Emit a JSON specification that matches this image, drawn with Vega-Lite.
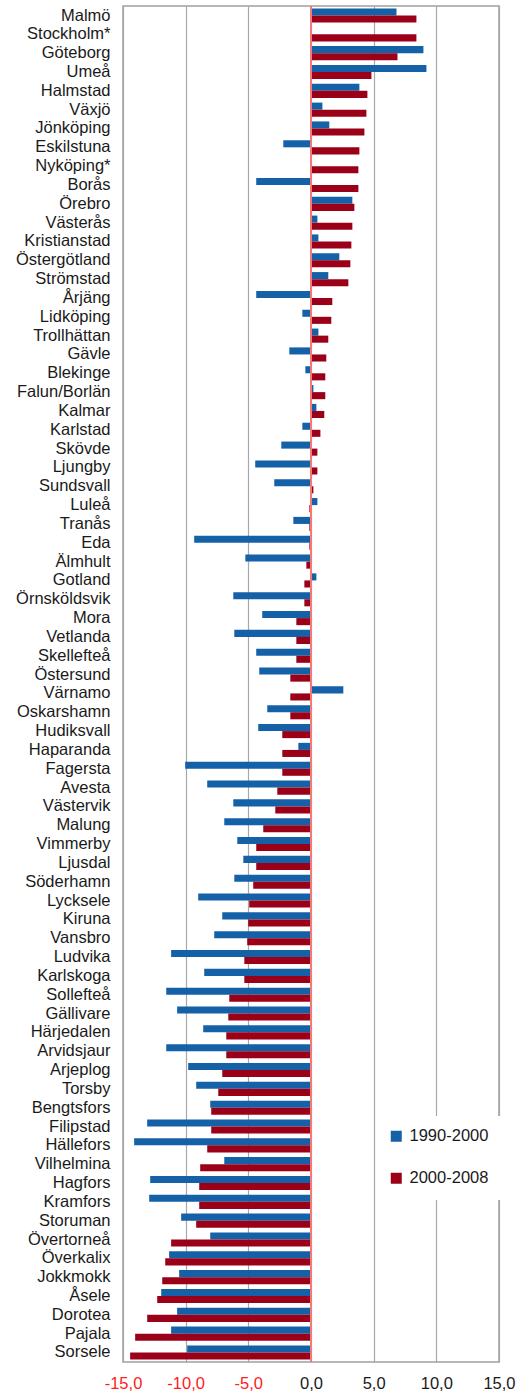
{
  "$schema": "https://vega.github.io/schema/vega-lite/v6.json",
  "width": 376,
  "height": 1356,
  "autosize": {"type": "none"},
  "padding": {"left": 123, "top": 6, "right": 18, "bottom": 33},
  "background": "white",
  "config": {
    "font": "Liberation Sans",
    "view": {"stroke": "#a0a0a0", "strokeWidth": 1.5}
  },
  "data": {
    "values": [
      {"kommun": "Malmö", "period": "1990-2000", "v": 6.82}, {"kommun": "Malmö", "period": "2000-2008", "v": 8.41},
      {"kommun": "Stockholm*", "period": "2000-2008", "v": 8.41},
      {"kommun": "Göteborg", "period": "1990-2000", "v": 8.97}, {"kommun": "Göteborg", "period": "2000-2008", "v": 6.9},
      {"kommun": "Umeå", "period": "1990-2000", "v": 9.21}, {"kommun": "Umeå", "period": "2000-2008", "v": 4.82},
      {"kommun": "Halmstad", "period": "1990-2000", "v": 3.86}, {"kommun": "Halmstad", "period": "2000-2008", "v": 4.5},
      {"kommun": "Växjö", "period": "1990-2000", "v": 0.91}, {"kommun": "Växjö", "period": "2000-2008", "v": 4.42},
      {"kommun": "Jönköping", "period": "1990-2000", "v": 1.46}, {"kommun": "Jönköping", "period": "2000-2008", "v": 4.26},
      {"kommun": "Eskilstuna", "period": "1990-2000", "v": -2.21}, {"kommun": "Eskilstuna", "period": "2000-2008", "v": 3.86},
      {"kommun": "Nyköping*", "period": "2000-2008", "v": 3.78},
      {"kommun": "Borås", "period": "1990-2000", "v": -4.37}, {"kommun": "Borås", "period": "2000-2008", "v": 3.78},
      {"kommun": "Örebro", "period": "1990-2000", "v": 3.3}, {"kommun": "Örebro", "period": "2000-2008", "v": 3.46},
      {"kommun": "Västerås", "period": "1990-2000", "v": 0.51}, {"kommun": "Västerås", "period": "2000-2008", "v": 3.3},
      {"kommun": "Kristianstad", "period": "1990-2000", "v": 0.59}, {"kommun": "Kristianstad", "period": "2000-2008", "v": 3.22},
      {"kommun": "Östergötland", "period": "1990-2000", "v": 2.26}, {"kommun": "Östergötland", "period": "2000-2008", "v": 3.14},
      {"kommun": "Strömstad", "period": "1990-2000", "v": 1.38}, {"kommun": "Strömstad", "period": "2000-2008", "v": 2.98},
      {"kommun": "Årjäng", "period": "1990-2000", "v": -4.37}, {"kommun": "Årjäng", "period": "2000-2008", "v": 1.7},
      {"kommun": "Lidköping", "period": "1990-2000", "v": -0.69}, {"kommun": "Lidköping", "period": "2000-2008", "v": 1.62},
      {"kommun": "Trollhättan", "period": "1990-2000", "v": 0.59}, {"kommun": "Trollhättan", "period": "2000-2008", "v": 1.38},
      {"kommun": "Gävle", "period": "1990-2000", "v": -1.73}, {"kommun": "Gävle", "period": "2000-2008", "v": 1.22},
      {"kommun": "Blekinge", "period": "1990-2000", "v": -0.45}, {"kommun": "Blekinge", "period": "2000-2008", "v": 1.14},
      {"kommun": "Falun/Borlän", "period": "1990-2000", "v": 0.19}, {"kommun": "Falun/Borlän", "period": "2000-2008", "v": 1.14},
      {"kommun": "Kalmar", "period": "1990-2000", "v": 0.43}, {"kommun": "Kalmar", "period": "2000-2008", "v": 1.06},
      {"kommun": "Karlstad", "period": "1990-2000", "v": -0.69}, {"kommun": "Karlstad", "period": "2000-2008", "v": 0.75},
      {"kommun": "Skövde", "period": "1990-2000", "v": -2.37}, {"kommun": "Skövde", "period": "2000-2008", "v": 0.51},
      {"kommun": "Ljungby", "period": "1990-2000", "v": -4.45}, {"kommun": "Ljungby", "period": "2000-2008", "v": 0.51},
      {"kommun": "Sundsvall", "period": "1990-2000", "v": -2.93}, {"kommun": "Sundsvall", "period": "2000-2008", "v": 0.19},
      {"kommun": "Luleå", "period": "1990-2000", "v": 0.51}, {"kommun": "Luleå", "period": "2000-2008", "v": -0.13},
      {"kommun": "Tranås", "period": "1990-2000", "v": -1.41}, {"kommun": "Tranås", "period": "2000-2008", "v": -0.13},
      {"kommun": "Eda", "period": "1990-2000", "v": -9.32}, {"kommun": "Eda", "period": "2000-2008", "v": -0.13},
      {"kommun": "Älmhult", "period": "1990-2000", "v": -5.24}, {"kommun": "Älmhult", "period": "2000-2008", "v": -0.37},
      {"kommun": "Gotland", "period": "1990-2000", "v": 0.43}, {"kommun": "Gotland", "period": "2000-2008", "v": -0.53},
      {"kommun": "Örnsköldsvik", "period": "1990-2000", "v": -6.2}, {"kommun": "Örnsköldsvik", "period": "2000-2008", "v": -0.53},
      {"kommun": "Mora", "period": "1990-2000", "v": -3.89}, {"kommun": "Mora", "period": "2000-2008", "v": -1.17},
      {"kommun": "Vetlanda", "period": "1990-2000", "v": -6.12}, {"kommun": "Vetlanda", "period": "2000-2008", "v": -1.17},
      {"kommun": "Skellefteå", "period": "1990-2000", "v": -4.37}, {"kommun": "Skellefteå", "period": "2000-2008", "v": -1.17},
      {"kommun": "Östersund", "period": "1990-2000", "v": -4.13}, {"kommun": "Östersund", "period": "2000-2008", "v": -1.65},
      {"kommun": "Värnamo", "period": "1990-2000", "v": 2.58}, {"kommun": "Värnamo", "period": "2000-2008", "v": -1.65},
      {"kommun": "Oskarshamn", "period": "1990-2000", "v": -3.49}, {"kommun": "Oskarshamn", "period": "2000-2008", "v": -1.65},
      {"kommun": "Hudiksvall", "period": "1990-2000", "v": -4.21}, {"kommun": "Hudiksvall", "period": "2000-2008", "v": -2.29},
      {"kommun": "Haparanda", "period": "1990-2000", "v": -1.01}, {"kommun": "Haparanda", "period": "2000-2008", "v": -2.29},
      {"kommun": "Fagersta", "period": "1990-2000", "v": -10.04}, {"kommun": "Fagersta", "period": "2000-2008", "v": -2.29},
      {"kommun": "Avesta", "period": "1990-2000", "v": -8.28}, {"kommun": "Avesta", "period": "2000-2008", "v": -2.69},
      {"kommun": "Västervik", "period": "1990-2000", "v": -6.2}, {"kommun": "Västervik", "period": "2000-2008", "v": -2.85},
      {"kommun": "Malung", "period": "1990-2000", "v": -6.92}, {"kommun": "Malung", "period": "2000-2008", "v": -3.81},
      {"kommun": "Vimmerby", "period": "1990-2000", "v": -5.88}, {"kommun": "Vimmerby", "period": "2000-2008", "v": -4.37},
      {"kommun": "Ljusdal", "period": "1990-2000", "v": -5.4}, {"kommun": "Ljusdal", "period": "2000-2008", "v": -4.37},
      {"kommun": "Söderhamn", "period": "1990-2000", "v": -6.12}, {"kommun": "Söderhamn", "period": "2000-2008", "v": -4.61},
      {"kommun": "Lycksele", "period": "1990-2000", "v": -9.0}, {"kommun": "Lycksele", "period": "2000-2008", "v": -4.93},
      {"kommun": "Kiruna", "period": "1990-2000", "v": -7.08}, {"kommun": "Kiruna", "period": "2000-2008", "v": -5.01},
      {"kommun": "Vansbro", "period": "1990-2000", "v": -7.72}, {"kommun": "Vansbro", "period": "2000-2008", "v": -5.09},
      {"kommun": "Ludvika", "period": "1990-2000", "v": -11.16}, {"kommun": "Ludvika", "period": "2000-2008", "v": -5.32},
      {"kommun": "Karlskoga", "period": "1990-2000", "v": -8.52}, {"kommun": "Karlskoga", "period": "2000-2008", "v": -5.32},
      {"kommun": "Sollefteå", "period": "1990-2000", "v": -11.55}, {"kommun": "Sollefteå", "period": "2000-2008", "v": -6.52},
      {"kommun": "Gällivare", "period": "1990-2000", "v": -10.68}, {"kommun": "Gällivare", "period": "2000-2008", "v": -6.6},
      {"kommun": "Härjedalen", "period": "1990-2000", "v": -8.6}, {"kommun": "Härjedalen", "period": "2000-2008", "v": -6.76},
      {"kommun": "Arvidsjaur", "period": "1990-2000", "v": -11.55}, {"kommun": "Arvidsjaur", "period": "2000-2008", "v": -6.76},
      {"kommun": "Arjeplog", "period": "1990-2000", "v": -9.8}, {"kommun": "Arjeplog", "period": "2000-2008", "v": -7.08},
      {"kommun": "Torsby", "period": "1990-2000", "v": -9.16}, {"kommun": "Torsby", "period": "2000-2008", "v": -7.4},
      {"kommun": "Bengtsfors", "period": "1990-2000", "v": -8.04}, {"kommun": "Bengtsfors", "period": "2000-2008", "v": -7.96},
      {"kommun": "Filipstad", "period": "1990-2000", "v": -13.07}, {"kommun": "Filipstad", "period": "2000-2008", "v": -7.96},
      {"kommun": "Hällefors", "period": "1990-2000", "v": -14.11}, {"kommun": "Hällefors", "period": "2000-2008", "v": -8.28},
      {"kommun": "Vilhelmina", "period": "1990-2000", "v": -6.92}, {"kommun": "Vilhelmina", "period": "2000-2008", "v": -8.84},
      {"kommun": "Hagfors", "period": "1990-2000", "v": -12.83}, {"kommun": "Hagfors", "period": "2000-2008", "v": -8.92},
      {"kommun": "Kramfors", "period": "1990-2000", "v": -12.91}, {"kommun": "Kramfors", "period": "2000-2008", "v": -8.92},
      {"kommun": "Storuman", "period": "1990-2000", "v": -10.36}, {"kommun": "Storuman", "period": "2000-2008", "v": -9.16},
      {"kommun": "Övertorneå", "period": "1990-2000", "v": -8.04}, {"kommun": "Övertorneå", "period": "2000-2008", "v": -11.16},
      {"kommun": "Överkalix", "period": "1990-2000", "v": -11.32}, {"kommun": "Överkalix", "period": "2000-2008", "v": -11.63},
      {"kommun": "Jokkmokk", "period": "1990-2000", "v": -10.52}, {"kommun": "Jokkmokk", "period": "2000-2008", "v": -11.87},
      {"kommun": "Åsele", "period": "1990-2000", "v": -11.95}, {"kommun": "Åsele", "period": "2000-2008", "v": -12.27},
      {"kommun": "Dorotea", "period": "1990-2000", "v": -10.68}, {"kommun": "Dorotea", "period": "2000-2008", "v": -13.07},
      {"kommun": "Pajala", "period": "1990-2000", "v": -11.16}, {"kommun": "Pajala", "period": "2000-2008", "v": -14.03},
      {"kommun": "Sorsele", "period": "1990-2000", "v": -9.88}, {"kommun": "Sorsele", "period": "2000-2008", "v": -14.43}
    ]
  },
  "layer": [
    {
      "mark": {"type": "bar", "cornerRadius": 0},
      "encoding": {
        "y": {
          "field": "kommun", "type": "nominal", "sort": null,
          "scale": {"paddingInner": 0.25, "paddingOuter": 0.13},
          "axis": {"title": null, "ticks": false, "domain": false, "labelFontSize": 16.5, "labelColor": "#1a1a1a", "labelPadding": 13, "labelLimit": 200}
        },
        "yOffset": {"field": "period", "type": "nominal", "sort": ["1990-2000", "2000-2008"], "scale": {"paddingInner": 0, "paddingOuter": 0}},
        "x": {
          "field": "v", "type": "quantitative",
          "scale": {"domain": [-15, 15], "nice": false, "zero": false},
          "axis": {
            "title": null, "values": [-15, -10, -5, 0, 5, 10, 15],
            "ticks": false, "domain": false,
            "grid": true, "gridColor": "#a8a8a8", "gridWidth": 1.2,
            "labelFontSize": 16.5, "labelPadding": 13,
            "labelExpr": "(datum.value < 0 ? '-' : '') + replace(format(abs(datum.value), '.1f'), '.', ',')",
            "labelColor": {"condition": {"test": "datum.value < 0", "value": "#ff2020"}, "value": "#1a1a1a"},
            "labelFlush": false
          }
        },
        "color": {
          "field": "period", "type": "nominal",
          "scale": {"domain": ["1990-2000", "2000-2008"], "range": ["#1461a8", "#9b0019"]},
          "legend": {
            "title": null, "orient": "none", "legendX": 253, "legendY": 1110,
            "padding": 12, "fillColor": "white", "strokeColor": "white", "strokeWidth": 0,
            "symbolType": "square", "symbolSize": 121, "symbolStrokeWidth": 0,
            "labelFontSize": 16.5, "labelColor": "#1a1a1a", "labelOffset": 5, "rowPadding": 25
          }
        }
      }
    },
    {
      "mark": {"type": "rule", "color": "#f47878", "strokeWidth": 2},
      "encoding": {"x": {"datum": 0}}
    }
  ]
}
